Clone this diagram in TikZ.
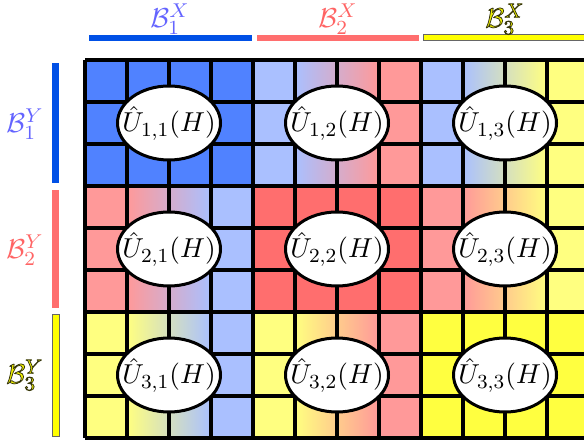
\documentclass[tikz,border=0pt]{standalone}
\usetikzlibrary{shapes.geometric}
\definecolor{dc1}{RGB}{80,130,255}
\definecolor{lc1}{RGB}{170,192,255}
\definecolor{dc2}{RGB}{255,110,110}
\definecolor{lc2}{RGB}{255,153,153}
\definecolor{dc3}{RGB}{255,255,64}
\definecolor{lc3}{RGB}{255,255,128}
\definecolor{bar1}{RGB}{0,80,230}
\definecolor{bar2}{RGB}{255,110,110}
\definecolor{bar3}{RGB}{255,255,0}
\definecolor{txt1}{RGB}{100,100,255}
\definecolor{txt2}{RGB}{255,100,100}
\definecolor{txt3}{RGB}{240,240,0}
\newcommand{\outlinedtext}[1]{\special{pdf:literal direct 2 Tr 0.3 w 0.2 0.2 0.05 RG}#1\special{pdf:literal direct 0 Tr}}
\tikzset{
  ell/.style={ellipse, draw=black, line width=1.2pt, fill=white, minimum width=41.2pt, minimum height=29.6pt, inner xsep=-8pt, inner ysep=0pt, font=\fontsize{11}{13}\selectfont},
  gridline/.style={line width=1.6pt, black},
  lbl/.style={inner sep=0pt, font=\fontsize{11}{13}\selectfont}
}
\begin{document}
\begin{tikzpicture}[x=0.4pt,y=-0.4pt]
\useasboundingbox (0,0) rectangle (584,444);
\begin{scope}
\clip (0,0) rectangle (584,444);
\foreach \i in {1,2,3}{
  \foreach \j in {1,2,3}{
    \pgfmathsetmacro\bx{85+168*(\j-1)}
    \pgfmathsetmacro\by{60+126*(\i-1)}
    \ifnum\i=\j
      \fill[dc\i] (\bx,\by) rectangle ++(168,126);
    \else
      \fill[lc\i] (\bx,\by) rectangle ++(42,126);
      \shade[left color=lc\i, right color=lc\i!50!lc\j] (\bx+42,\by) rectangle ++(42,126);
      \shade[left color=lc\i!50!lc\j, right color=lc\j] (\bx+84,\by) rectangle ++(42,126);
      \fill[lc\j] (\bx+126,\by) rectangle ++(42,126);
    \fi
  }
}
\foreach \k in {0,...,12}{
  \draw[gridline] (85+42*\k,60) -- (85+42*\k,438);
}
\foreach \r in {0,...,9}{
  \draw[gridline] (85,60+42*\r) -- (589,60+42*\r);
}
\foreach \i in {1,2,3}{
  \foreach \j in {1,2,3}{
    \node[ell] (u\i\j) at ({85+168*(\j-1)+84},{60+126*(\i-1)+63}) {$\hat U_{\i,\j}(H)$};
  }
}
% top bars
\fill[bar1] (89,35) rectangle (252,41);
\fill[bar2] (257,35) rectangle (419,41);
\filldraw[fill=bar3, draw=black!60, line width=0.4pt] (423,35) rectangle (600,41);
\end{scope}
% left bars
\fill[bar1] (52,63) rectangle (59,183);
\fill[bar2] (52,190) rectangle (59,308);
\filldraw[fill=bar3, draw=black!60, line width=0.4pt] (52,315) rectangle (59,436);
% labels
\node[lbl, text=txt1] (bx1) at (170,19) {$\mathcal{B}_1^X$};
\node[lbl, text=txt2] (bx2) at (338,19) {$\mathcal{B}_2^X$};
\node[lbl, text=txt3] (bx3) at (505,19) {\outlinedtext{$\mathcal{B}_3^X$}};
\node[lbl, text=txt1] (by1) at (25,124) {$\mathcal{B}_1^Y$};
\node[lbl, text=txt2] (by2) at (25,250) {$\mathcal{B}_2^Y$};
\node[lbl, text=txt3] (by3) at (25,375) {\outlinedtext{$\mathcal{B}_3^Y$}};
\end{tikzpicture}
\end{document}
